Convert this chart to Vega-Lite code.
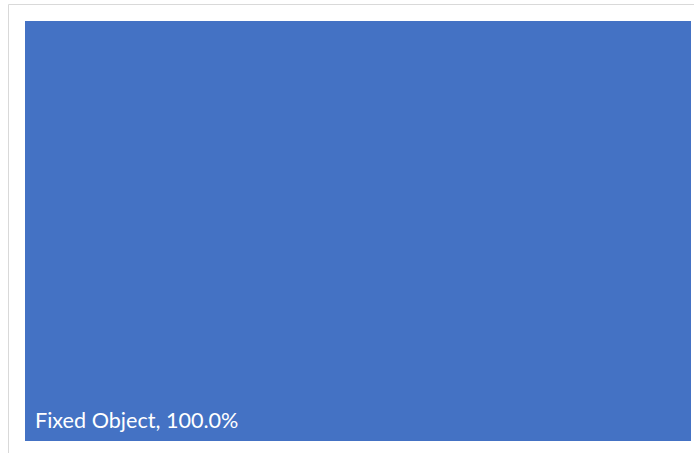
{
  "$schema": "https://vega.github.io/schema/vega-lite/v6.json",
  "autosize": {"type": "none"},
  "width": 686,
  "height": 452,
  "padding": {"left": 8, "top": 4, "right": 0, "bottom": 0},
  "background": "white",
  "config": {"view": {"stroke": "#d9d9d9", "strokeWidth": 1}},
  "data": {"values": [{"name": "Fixed Object", "value": 100, "label": "Fixed Object, 100.0%"}]},
  "layer": [
    {
      "mark": {"type": "rect", "fill": "#4472c4", "stroke": null},
      "encoding": {
        "x": {"field": "value", "type": "quantitative", "scale": {"domain": [0, 100], "range": [17, 683]}, "axis": null},
        "x2": {"datum": 0},
        "y": {"field": "value", "type": "quantitative", "scale": {"domain": [0, 100], "range": [17, 437]}, "axis": null},
        "y2": {"datum": 0}
      }
    },
    {
      "mark": {"type": "text", "align": "left", "baseline": "alphabetic", "dx": 10, "dy": -13, "fill": "white", "font": "Lato", "fontSize": 21.6},
      "encoding": {
        "x": {"datum": 0, "type": "quantitative"},
        "y": {"field": "value", "type": "quantitative"},
        "text": {"field": "label"}
      }
    }
  ]
}
